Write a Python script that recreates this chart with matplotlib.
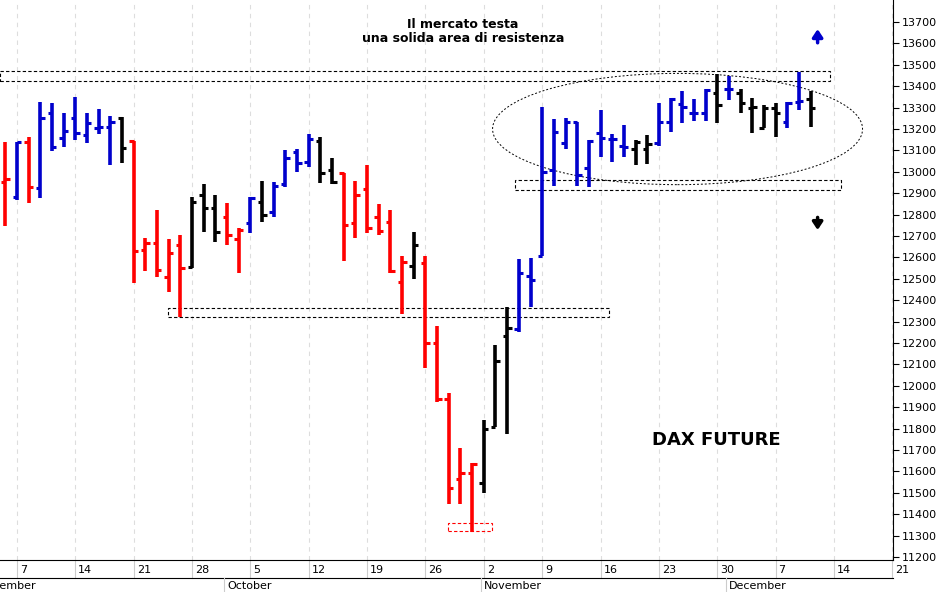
import matplotlib
matplotlib.use("Agg")
import matplotlib.pyplot as plt
from matplotlib.patches import Rectangle, Ellipse
import numpy as np

# trading-day index, 0 = Monday 7 September
days = list(range(-1, 69))
opens = [12954, 12884, 13141, 12923, 13276, 13157, 13250, 13172, 13203, 13211,
         13250, 13145, 12635, 12669, 12510, 12658, 12554, 12892, 12829, 12790,
         12685, 12762, 12860, 12814, 12943, 13094, 13047, 13145, 13008, 12993,
         12759, 12918, 12790, 12767, 12486, 12560, 12572, 12199, 11937, 11563,
         11594, 11544, 11809, 12233, 12264, 12513, 12607, 13010, 13133, 13234,
         13016, 13180, 13152, 13121, 13105, 13105, 13136, 13234, 13317, 13273,
         13273, 13367, 13385, 13367, 13297, 13203, 13297, 13234, 13328, 13339]
highs = [13141, 13141, 13164, 13328, 13320, 13273, 13351, 13273, 13292, 13261,
         13255, 13145, 12689, 12821, 12685, 12705, 12881, 12943, 12892, 12853,
         12736, 12884, 12958, 12954, 13102, 13105, 13177, 13164, 13063, 12993,
         12958, 13032, 12848, 12821, 12607, 12720, 12607, 12279, 11965, 11708,
         11641, 11840, 12191, 12367, 12591, 12596, 13304, 13245, 13250, 13234,
         13149, 13289, 13177, 13219, 13149, 13172, 13323, 13343, 13379, 13339,
         13385, 13457, 13448, 13385, 13343, 13312, 13323, 13328, 13468, 13379]
lows = [12747, 12868, 12856, 12876, 13099, 13117, 13149, 13136, 13177, 13032,
        13040, 12482, 12538, 12510, 12440, 12320, 12549, 12720, 12670, 12658,
        12526, 12713, 12764, 12787, 12927, 13001, 13024, 12946, 12943, 12585,
        12689, 12713, 12705, 12526, 12335, 12498, 12085, 11926, 11448, 11448,
        11318, 11500, 11809, 11775, 12253, 12367, 12607, 12934, 13105, 12934,
        12931, 13071, 13047, 13071, 13032, 13036, 13121, 13187, 13227, 13239,
        13239, 13227, 13336, 13273, 13183, 13203, 13161, 13203, 13289, 13211]
closes = [12966, 13141, 12927, 13250, 13117, 13192, 13183, 13229, 13211, 13231,
          13110, 12631, 12669, 12541, 12619, 12549, 12860, 12829, 12720, 12705,
          12728, 12876, 12798, 12934, 13063, 13043, 13152, 12996, 12954, 12751,
          12892, 12736, 12725, 12538, 12580, 12658, 12199, 11937, 11521, 11594,
          11634, 11797, 12117, 12269, 12528, 12494, 13001, 13187, 13234, 12985,
          13145, 13157, 13152, 13117, 13141, 13130, 13234, 13339, 13301, 13273,
          13382, 13312, 13385, 13320, 13301, 13297, 13273, 13323, 13332, 13297]
# bar colour: r = falling, b = rising, k = neutral
trend = ("rbrbbbbbbbk" + "rrrrr" + "kkk" + "rr" + "b" + "k" + "bbbb" + "kk"
         + "rrrrrr" + "k" + "rrrrr" + "kkk" + "bbbbbbbbbb" + "kk" + "bbbbb"
         + "k" + "b" + "kkkk" + "bb" + "k")

day_labels = ["7", "14", "21", "28", "5", "12", "19", "26", "2", "9", "16", "23", "30", "7", "14", "21"]
months = ["September", "October", "November", "December"]
month_start = [-3.7, 18, 40, 61]

colors = {"r": "#ff0000", "b": "#0000cc", "k": "#000000"}

fig = plt.figure(figsize=(9.41, 5.92), dpi=100)
ax = fig.add_axes([0, 32 / 592, 893 / 941, 560 / 592])
x0, x1 = -1.457, 75.06
ax.set_xlim(x0, x1)
ax.set_ylim(11186, 13803)

for d, o, h, l, c, t in zip(days, opens, highs, lows, closes, trend):
    col = colors[t]
    ax.plot([d, d], [l, h], color=col, lw=2.6, solid_capstyle="butt")
    ax.plot([d - 0.38, d], [o, o], color=col, lw=2.2, solid_capstyle="butt")
    ax.plot([d, d + 0.38], [c, c], color=col, lw=2.2, solid_capstyle="butt")

# weekly grid
for w in range(16):
    ax.axvline(w * 5, color="#dddddd", ls=(0, (4, 4)), lw=0.8, zorder=0)

# support / resistance bands
dash = dict(fill=False, ls=(0, (3, 2)), lw=0.8)
ax.add_patch(Rectangle((x0, 13424), 69.7 - x0, 47, ec="black", **dash))
ax.add_patch(Rectangle((42.7, 12915), 70.6 - 42.7, 47, ec="black", **dash))
ax.add_patch(Rectangle((12.9, 12321), 50.7 - 12.9, 42, ec="black", **dash))
ax.add_patch(Rectangle((36.9, 11321), 40.7 - 36.9, 38, ec="red", **dash))
ax.add_patch(Ellipse((56.6, 13200), 31.7, 520, fill=False, ec="black",
                     ls=(0, (2, 2)), lw=0.7))

ax.annotate("", xy=(68.6, 13680), xytext=(68.6, 13590),
            arrowprops=dict(arrowstyle="-|>,head_width=0.3,head_length=0.45",
                            color="#0000cc", lw=2.5))
ax.annotate("", xy=(68.6, 12715), xytext=(68.6, 12800),
            arrowprops=dict(arrowstyle="-|>,head_width=0.3,head_length=0.45",
                            color="black", lw=2.5))

ax.text(38.2, 13655, "Il mercato testa\nuna solida area di resistenza",
        ha="center", va="center", fontsize=9, fontweight="bold", linespacing=1.05)
ax.text(59.9, 11747, "DAX FUTURE", ha="center", va="center",
        fontsize=13, fontweight="bold")

# axes styling
ax.yaxis.tick_right()
ax.set_yticks(np.arange(11200, 13701, 100))
ax.tick_params(axis="y", labelsize=8, length=4, direction="out", pad=2)
ax.set_xticks([])
for s in ["top", "left"]:
    ax.spines[s].set_visible(False)

# date labels below the plot
trans = ax.get_xaxis_transform()
for i, lab in enumerate(day_labels):
    x = i * 5
    ax.plot([x, x], [0, -0.032], color="#cccccc", lw=0.8, transform=trans, clip_on=False)
    ax.text(x + 0.25, -0.017, lab, fontsize=8, va="center", ha="left",
            transform=trans, clip_on=False)
ax.plot([x0, x1], [-0.032, -0.032], color="black", lw=0.8, transform=trans, clip_on=False)
for m, s in zip(months, month_start):
    ax.plot([s - 0.25, s - 0.25], [-0.032, -0.06], color="#cccccc", lw=0.8,
            transform=trans, clip_on=False)
    ax.text(s, -0.047, m, fontsize=8, va="center", ha="left",
            transform=trans, clip_on=False)

fig.savefig("out.png", dpi=100)
